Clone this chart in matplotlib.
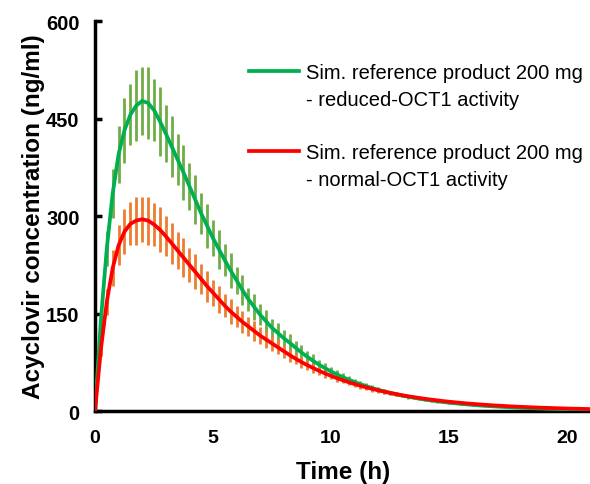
import numpy as np
import matplotlib
matplotlib.use("Agg")
import matplotlib.pyplot as plt
from matplotlib.lines import Line2D

# =======================
# Datos (tiempo en h, concentracion en ng/ml)
# =======================
time_h = np.concatenate([np.arange(0, 16.01, 0.25), np.arange(16.5, 21.01, 0.5)])

reduced_mean = [0, 140, 250, 335, 395, 432, 456, 470, 477, 474, 463, 446, 427, 407, 387, 367,
                346, 325, 304, 285, 266, 249, 232, 216, 201, 186, 172, 160, 148, 138, 128, 120,
                112, 105, 97.4, 90, 83.3, 77, 71.2, 65.9, 60.9, 56.4, 52.1, 48.2, 44.6, 41.3,
                38.2, 35.3, 32.7, 30.2, 28, 25.9, 23.9, 22.1, 20.5, 19, 17.5, 16.2, 15, 13.9,
                12.8, 11.9, 11, 10.2, 9.4,
                8.0, 6.9, 5.9, 5.0, 4.3, 3.7, 3.1, 2.7, 2.3, 2.0]
reduced_sd = [0, 14, 27, 38, 44, 50, 47, 55, 52, 56, 48, 53, 44, 47, 40, 43,
              36, 38, 32, 34, 28, 30, 25, 27, 21, 23, 18, 20, 16, 17, 14, 15,
              12, 13, 11, 11, 9, 10, 8, 8, 7, 7, 6, 6, 5, 5,
              4.5, 4.5, 4, 4, 3.5, 3.5, 3, 3, 2.5, 2.5, 2, 2, 2, 2,
              1.5, 1.5, 1.5, 1.5, 1.2,
              0, 0, 0, 0, 0, 0, 0, 0, 0, 0]

normal_mean = [0, 95, 168, 220, 255, 276, 288, 293, 295, 293, 287, 279, 269, 258, 247, 236,
               225, 214, 203, 192, 182, 172, 162, 153, 145, 137, 130, 123, 116, 110, 104, 98,
               92, 86, 80.5, 75.3, 70.5, 66, 61.8, 57.8, 54.1, 50.6, 47.4, 44.3, 41.5, 38.8,
               36.3, 34, 31.8, 29.8, 27.9, 26.1, 24.4, 22.8, 21.4, 20, 18.7, 17.5, 16.4, 15.3,
               14.3, 13.4, 12.6, 11.7, 11,
               9.6, 8.4, 7.4, 6.5, 5.7, 5.0, 4.4, 3.8, 3.4, 2.9]
normal_sd = [0, 11, 20, 27, 31, 35, 33, 37, 35, 37, 33, 35, 31, 32, 28, 30,
             26, 27, 23, 24, 20, 21, 18, 19, 16, 17, 14, 15, 13, 13, 11, 11,
             10, 10, 8.5, 8.5, 7.5, 7.5, 6.5, 6.5, 5.5, 5.5, 5, 5, 4.5, 4.5,
             4, 4, 3.5, 3.5, 3, 3, 2.5, 2.5, 2.2, 2.2, 2, 2, 1.8, 1.8,
             1.5, 1.5, 1.3, 1.3, 1.2,
             0, 0, 0, 0, 0, 0, 0, 0, 0, 0]

labels = ["Sim. reference product 200 mg", "- reduced-OCT1 activity",
          "Sim. reference product 200 mg", "- normal-OCT1 activity"]

plt.rcParams["font.family"] = ["Liberation Sans", "DejaVu Sans"]

fig = plt.figure(figsize=(5.9, 4.85), dpi=100)
ax = fig.add_axes([0.161, 0.1505, 0.84, 0.804])

# barras de error (primero) y curvas encima
ax.errorbar(time_h, reduced_mean, yerr=reduced_sd, fmt="none", ecolor="#70AD47",
            elinewidth=2.0, capsize=0, zorder=2)
ax.errorbar(time_h, normal_mean, yerr=normal_sd, fmt="none", ecolor="#ED7D31",
            elinewidth=2.0, capsize=0, zorder=2)
ax.plot(time_h, reduced_mean, color="#00B050", lw=2.7, zorder=3)
ax.plot(time_h, normal_mean, color="#FF0000", lw=2.7, zorder=4)

ax.set_xlim(0, 21)
ax.set_ylim(0, 600)
ax.set_xticks([0, 5, 10, 15, 20])
ax.set_yticks([0, 150, 300, 450, 600])

for s in ["top", "right"]:
    ax.spines[s].set_visible(False)
for s in ["left", "bottom"]:
    ax.spines[s].set_linewidth(2.5)

ax.tick_params(axis="y", direction="in", length=5, width=2.5, pad=11, labelsize=14.5)
ax.tick_params(axis="x", length=0, pad=13, labelsize=14)
for lab in ax.get_xticklabels() + ax.get_yticklabels():
    lab.set_fontweight("bold")

ax.set_xlabel("Time (h)", fontsize=17.5, fontweight="bold", labelpad=10)
ax.set_ylabel("Acyclovir concentration (ng/ml)", fontsize=17.5, fontweight="bold", labelpad=1)

# leyenda: cada etiqueta en dos lineas, la linea de color en la primera
blank = Line2D([], [], color="none")
handles = [Line2D([], [], color="#00B050", lw=2.7), blank, blank,
           Line2D([], [], color="#FF0000", lw=2.7), blank]
leg = ax.legend(handles, [labels[0], labels[1], "", labels[2], labels[3]],
                loc="upper left", bbox_to_anchor=(0.275, 0.938), frameon=False,
                fontsize=14.5, handlelength=2.45, handletextpad=0.34, labelspacing=0.38)

fig.savefig("out.png", dpi=100)
